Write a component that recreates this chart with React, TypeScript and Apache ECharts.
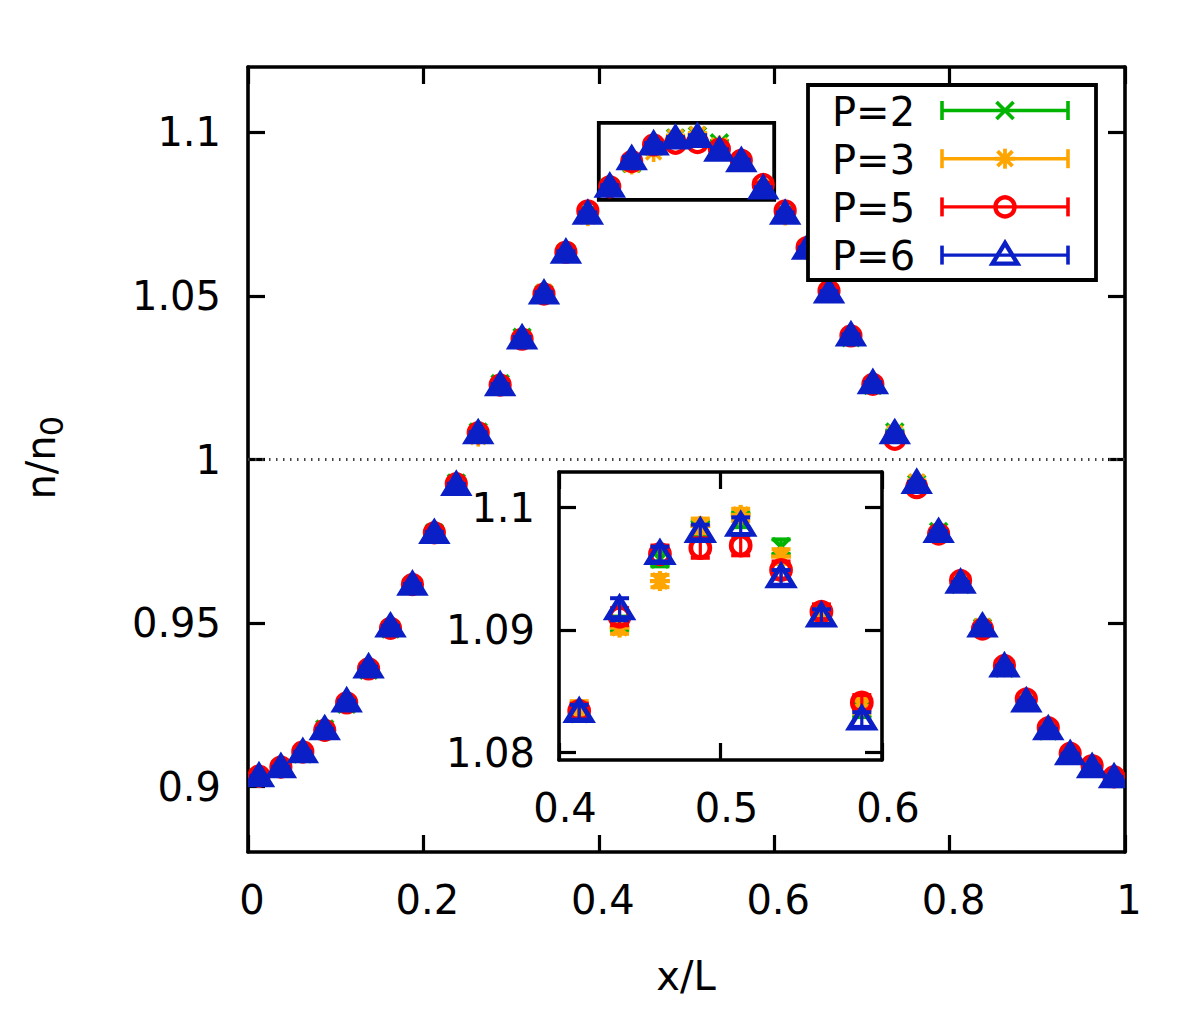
import React, { useEffect, useRef } from "react";
import * as echarts from "echarts";

// ---------------- data ----------------
const xPos = [
  0.0125, 0.0375, 0.0625, 0.0875, 0.1125, 0.1375, 0.1625, 0.1875, 0.2125, 0.2375,
  0.2625, 0.2875, 0.3125, 0.3375, 0.3625, 0.3875, 0.4125, 0.4375, 0.4625, 0.4875,
  0.5125, 0.5375, 0.5625, 0.5875, 0.6125, 0.6375, 0.6625, 0.6875, 0.7125, 0.7375,
  0.7625, 0.7875, 0.8125, 0.8375, 0.8625, 0.8875, 0.9125, 0.9375, 0.9625, 0.9875,
];

const p2Vals = [
  0.9028, 0.9056, 0.9100, 0.9176, 0.9252, 0.9356, 0.9482, 0.9614, 0.9776, 0.9928,
  1.0084, 1.0232, 1.0374, 1.0506, 1.0632, 1.0752, 1.0832, 1.0905, 1.0958, 1.0983,
  1.0990, 1.0968, 1.0912, 1.0835, 1.0752, 1.0646, 1.0512, 1.0372, 1.0226, 1.0084,
  0.9926, 0.9780, 0.9618, 0.9486, 0.9362, 0.9262, 0.9170, 0.9096, 0.9056, 0.9025,
];
const p3Vals = [
  0.9026, 0.9056, 0.9110, 0.9168, 0.9258, 0.9362, 0.9486, 0.9618, 0.9774, 0.9920,
  1.0070, 1.0226, 1.0366, 1.0512, 1.0638, 1.0744, 1.0836, 1.0902, 1.0940, 1.0985,
  1.0994, 1.0960, 1.0912, 1.0838, 1.0746, 1.0640, 1.0516, 1.0380, 1.0228, 1.0080,
  0.9932, 0.9770, 0.9628, 0.9490, 0.9368, 0.9262, 0.9176, 0.9104, 0.9060, 0.9028,
];
const p5Vals = [
  0.9032, 0.9060, 0.9106, 0.9172, 0.9256, 0.9360, 0.9484, 0.9618, 0.9776, 0.9926,
  1.0082, 1.0228, 1.0368, 1.0506, 1.0634, 1.0760, 1.0834, 1.0911, 1.0962, 1.0967,
  1.0969, 1.0949, 1.0915, 1.0841, 1.0760, 1.0648, 1.0515, 1.0378, 1.0230, 1.0062,
  0.9914, 0.9772, 0.9630, 0.9482, 0.9370, 0.9268, 0.9180, 0.9102, 0.9064, 0.9030,
];
const p6Vals = [
  0.9030, 0.9058, 0.9104, 0.9174, 0.9259, 0.9363, 0.9488, 0.9616, 0.9774, 0.9921,
  1.0079, 1.0226, 1.0369, 1.0506, 1.0631, 1.0750, 1.0833, 1.0917, 1.0962, 1.0980,
  1.0985, 1.0943, 1.0911, 1.0827, 1.0750, 1.0643, 1.0509, 1.0378, 1.0232, 1.0079,
  0.9927, 0.9777, 0.9622, 0.9488, 0.9366, 0.9259, 0.9174, 0.9098, 0.9058, 0.9027,
];

const p2Err = [
  0.0003, 0.0003, 0.0003, 0.0003, 0.0004, 0.0004, 0.0004, 0.0004, 0.0005, 0.0005,
  0.0005, 0.0005, 0.0005, 0.0006, 0.0006, 0.0006, 0.0006, 0.0006, 0.0006, 0.0006,
  0.0006, 0.0006, 0.0006, 0.0006, 0.0006, 0.0006, 0.0006, 0.0005, 0.0005, 0.0005,
  0.0005, 0.0005, 0.0004, 0.0004, 0.0004, 0.0004, 0.0003, 0.0003, 0.0003, 0.0003,
];
const p3Err = [
  0.0003, 0.0003, 0.0003, 0.0004, 0.0004, 0.0004, 0.0004, 0.0005, 0.0005, 0.0005,
  0.0005, 0.0005, 0.0006, 0.0006, 0.0006, 0.0006, 0.0006, 0.0005, 0.0005, 0.0006,
  0.0005, 0.0006, 0.0005, 0.0006, 0.0006, 0.0006, 0.0006, 0.0005, 0.0005, 0.0005,
  0.0005, 0.0005, 0.0004, 0.0004, 0.0004, 0.0004, 0.0004, 0.0003, 0.0003, 0.0003,
];
const p5Err = [
  0.0003, 0.0003, 0.0003, 0.0003, 0.0004, 0.0004, 0.0004, 0.0005, 0.0005, 0.0005,
  0.0005, 0.0006, 0.0006, 0.0006, 0.0006, 0.0006, 0.0006, 0.0007, 0.0007, 0.0008,
  0.0008, 0.0007, 0.0006, 0.0006, 0.0006, 0.0006, 0.0006, 0.0006, 0.0005, 0.0005,
  0.0005, 0.0005, 0.0004, 0.0004, 0.0004, 0.0004, 0.0003, 0.0003, 0.0003, 0.0003,
];
const p6Err = [
  0.0003, 0.0003, 0.0003, 0.0003, 0.0004, 0.0004, 0.0004, 0.0004, 0.0005, 0.0005,
  0.0005, 0.0005, 0.0006, 0.0006, 0.0006, 0.0006, 0.0006, 0.0009, 0.0006, 0.0006,
  0.0007, 0.0006, 0.0006, 0.0006, 0.0006, 0.0006, 0.0006, 0.0005, 0.0005, 0.0005,
  0.0005, 0.0004, 0.0004, 0.0004, 0.0004, 0.0003, 0.0003, 0.0003, 0.0003, 0.0003,
];

const seriesNames = ["P=2", "P=3", "P=5", "P=6"];
const seriesColors = ["#00b400", "#ffa500", "#ff0000", "#0b1fc7"];
const seriesMarkers = ["cross", "star", "circle", "triangle"];

const mainXRange = [0, 1];
const mainYRange = [0.88, 1.12];
const mainXInterval = 0.2;
const mainYTicks = [0.9, 0.95, 1, 1.05, 1.1];
const insetXRange = [0.4, 0.6];
const insetYRange = [1.0794, 1.1029];
const insetXTicks = [0.4, 0.5, 0.6];
const insetYTicks = [1.08, 1.09, 1.1];
const refLevel = 1;

const xTitle = "x/L";
const yTitleMain = "n/n";
const yTitleSub = "0";

// ---------------- helpers ----------------
const FONT = "DejaVu Sans";

function markerEls(kind: string, cx: number, cy: number, color: string, filled: boolean, lw: number): any[] {
  if (kind === "cross") {
    const s = 8.5;
    return [
      { type: "line", shape: { x1: cx - s, y1: cy - s, x2: cx + s, y2: cy + s }, style: { stroke: color, lineWidth: lw } },
      { type: "line", shape: { x1: cx - s, y1: cy + s, x2: cx + s, y2: cy - s }, style: { stroke: color, lineWidth: lw } },
    ];
  }
  if (kind === "star") {
    const s = 10;
    const d = 7.5;
    return [
      { type: "line", shape: { x1: cx - s, y1: cy, x2: cx + s, y2: cy }, style: { stroke: color, lineWidth: lw } },
      { type: "line", shape: { x1: cx, y1: cy - s, x2: cx, y2: cy + s }, style: { stroke: color, lineWidth: lw } },
      { type: "line", shape: { x1: cx - d, y1: cy - d, x2: cx + d, y2: cy + d }, style: { stroke: color, lineWidth: lw } },
      { type: "line", shape: { x1: cx - d, y1: cy + d, x2: cx + d, y2: cy - d }, style: { stroke: color, lineWidth: lw } },
    ];
  }
  if (kind === "circle") {
    return [
      { type: "circle", shape: { cx, cy, r: 9.5 }, style: { stroke: color, lineWidth: lw + 0.6, fill: "none" } },
    ];
  }
  // triangle
  return [
    {
      type: "polygon",
      shape: { points: [[cx, cy - 12], [cx - 12.5, cy + 8.5], [cx + 12.5, cy + 8.5]] },
      style: { stroke: color, lineWidth: lw + 0.6, fill: filled ? color : "none", lineJoin: "miter" },
    },
  ];
}

function makeRenderItem(kind: string, color: string, filled: boolean, lw: number, bw: number) {
  return (params: any, api: any) => {
    const x = api.value(0);
    const y = api.value(1);
    const e = api.value(2);
    const c = api.coord([x, y]);
    const top = api.coord([x, y + e])[1];
    const bot = api.coord([x, y - e])[1];
    const cw = 9.5;
    const children: any[] = [
      { type: "line", shape: { x1: c[0], y1: top, x2: c[0], y2: bot }, style: { stroke: color, lineWidth: bw } },
      { type: "line", shape: { x1: c[0] - cw, y1: top, x2: c[0] + cw, y2: top }, style: { stroke: color, lineWidth: bw + 0.8 } },
      { type: "line", shape: { x1: c[0] - cw, y1: bot, x2: c[0] + cw, y2: bot }, style: { stroke: color, lineWidth: bw + 0.8 } },
      ...markerEls(kind, c[0], c[1], color, filled, lw),
    ];
    return { type: "group", children };
  };
}

function buildOption(): any {
  const valsList = [p2Vals, p3Vals, p5Vals, p6Vals];
  const errList = [p2Err, p3Err, p5Err, p6Err];

  const axisLine = { show: true, onZero: false, lineStyle: { color: "#000", width: 3.6 } };
  const tick = (extra: any = {}) => ({ show: true, inside: true, length: 17, lineStyle: { color: "#000", width: 3.2 }, ...extra });
  const label = (extra: any = {}) => ({ color: "#000", fontSize: 40, fontFamily: FONT, ...extra });

  const xAxis = [
    {
      gridIndex: 0, type: "value", position: "bottom", min: mainXRange[0], max: mainXRange[1], interval: mainXInterval,
      axisLine, axisTick: tick(), splitLine: { show: false },
      axisLabel: label({ margin: 28, padding: [0, 0, 0, 8] }),
    },
    {
      gridIndex: 0, type: "value", position: "top", min: mainXRange[0], max: mainXRange[1], interval: mainXInterval,
      axisLine, axisTick: tick(), splitLine: { show: false }, axisLabel: { show: false },
    },
    {
      gridIndex: 1, type: "value", position: "bottom", min: insetXRange[0], max: insetXRange[1],
      axisLine, axisTick: tick({ customValues: insetXTicks }), splitLine: { show: false },
      axisLabel: label({ margin: 28, padding: [0, 0, 0, 12], customValues: insetXTicks }),
    },
    {
      gridIndex: 1, type: "value", position: "top", min: insetXRange[0], max: insetXRange[1],
      axisLine, axisTick: tick({ customValues: insetXTicks }), splitLine: { show: false }, axisLabel: { show: false },
    },
  ];
  const yAxis = [
    {
      gridIndex: 0, type: "value", position: "left", min: mainYRange[0], max: mainYRange[1],
      axisLine, axisTick: tick({ customValues: mainYTicks }), splitLine: { show: false },
      axisLabel: label({ margin: 27, customValues: mainYTicks }),
    },
    {
      gridIndex: 0, type: "value", position: "right", min: mainYRange[0], max: mainYRange[1],
      axisLine, axisTick: tick({ customValues: mainYTicks }), splitLine: { show: false }, axisLabel: { show: false },
    },
    {
      gridIndex: 1, type: "value", position: "left", min: insetYRange[0], max: insetYRange[1],
      axisLine, axisTick: tick({ customValues: insetYTicks }), splitLine: { show: false },
      axisLabel: label({ margin: 24, customValues: insetYTicks }),
    },
    {
      gridIndex: 1, type: "value", position: "right", min: insetYRange[0], max: insetYRange[1],
      axisLine, axisTick: tick({ customValues: insetYTicks }), splitLine: { show: false }, axisLabel: { show: false },
    },
  ];

  const series: any[] = [];
  // reference dotted line at n/n0 = 1
  series.push({
    type: "line",
    xAxisIndex: 0,
    yAxisIndex: 0,
    data: [],
    silent: true,
    markLine: {
      silent: true,
      symbol: ["none", "none"],
      label: { show: false },
      lineStyle: { color: "#444", width: 3, type: [1.5, 5.5] },
      data: [{ yAxis: refLevel }],
    },
  });
  // zoom box in main plot
  series.push({
    type: "custom",
    xAxisIndex: 0,
    yAxisIndex: 0,
    z: 3,
    data: [[insetXRange[0], insetYRange[0], insetXRange[1], insetYRange[1]]],
    renderItem: (params: any, api: any) => {
      const a = api.coord([api.value(0), api.value(1)]);
      const b = api.coord([api.value(2), api.value(3)]);
      return {
        type: "rect",
        shape: { x: a[0], y: b[1], width: b[0] - a[0], height: a[1] - b[1] },
        style: { fill: "none", stroke: "#000", lineWidth: 3.8 },
      };
    },
  });
  // data, main plot
  for (let s = 0; s < 4; s++) {
    const data = xPos.map((x, i) => [x, valsList[s][i], errList[s][i]]);
    series.push({
      type: "custom",
      name: seriesNames[s],
      xAxisIndex: 0,
      yAxisIndex: 0,
      z: 4 + s,
      clip: true,
      encode: { x: 0, y: 1 },
      data,
      renderItem: makeRenderItem(seriesMarkers[s], seriesColors[s], true, 3.6, 2.8),
    });
  }
  // data, inset
  for (let s = 0; s < 4; s++) {
    const data = xPos.map((x, i) => [x, valsList[s][i], errList[s][i]]);
    series.push({
      type: "custom",
      name: seriesNames[s] + " (inset)",
      xAxisIndex: 2,
      yAxisIndex: 2,
      z: 10 + s,
      clip: true,
      encode: { x: 0, y: 1 },
      data,
      renderItem: makeRenderItem(seriesMarkers[s], seriesColors[s], false, 4.2, 3.2),
    });
  }

  // legend drawn with graphic elements
  const legendEls: any[] = [
    {
      type: "rect",
      shape: { x: 808, y: 85, width: 288, height: 195 },
      style: { fill: "#fff", stroke: "#000", lineWidth: 3.8 },
      z: 100,
    },
  ];
  for (let s = 0; s < 4; s++) {
    const y = 110.5 + s * 48.2;
    const col = seriesColors[s];
    legendEls.push({
      type: "text",
      x: 832,
      y: y + 1,
      z: 101,
      style: { text: seriesNames[s], fontSize: 40, fontFamily: FONT, fill: "#000", textAlign: "left", textVerticalAlign: "middle", align: "left", verticalAlign: "middle" },
    });
    const x1 = 942;
    const x2 = 1068;
    legendEls.push({ type: "line", z: 101, shape: { x1, y1: y, x2, y2: y }, style: { stroke: col, lineWidth: 3.4 } });
    legendEls.push({ type: "line", z: 101, shape: { x1, y1: y - 9.5, x2: x1, y2: y + 9.5 }, style: { stroke: col, lineWidth: 3.6 } });
    legendEls.push({ type: "line", z: 101, shape: { x1: x2, y1: y - 9.5, x2, y2: y + 9.5 }, style: { stroke: col, lineWidth: 3.6 } });
    markerEls(seriesMarkers[s], 1005, y, col, false, 3.8).forEach((el) => legendEls.push({ ...el, z: 102 }));
  }

  const graphic = [
    ...legendEls,
    {
      type: "text",
      x: 686,
      y: 976,
      style: { text: xTitle, fontSize: 40, fontFamily: FONT, fill: "#000", textAlign: "center", textVerticalAlign: "middle", align: "center", verticalAlign: "middle" },
    },
    {
      type: "group",
      x: 41,
      y: 458,
      rotation: Math.PI / 2,
      children: [
        {
          type: "text",
          x: -9.5,
          y: 0,
          style: { text: yTitleMain, fontSize: 40, fontFamily: FONT, fill: "#000", textAlign: "center", textVerticalAlign: "middle", align: "center", verticalAlign: "middle" },
        },
        {
          type: "text",
          x: 32,
          y: 11,
          style: { text: yTitleSub, fontSize: 32, fontFamily: FONT, fill: "#000", textAlign: "center", textVerticalAlign: "middle", align: "center", verticalAlign: "middle" },
        },
      ],
    },
  ];

  return {
    animation: false,
    backgroundColor: "#fff",
    textStyle: { fontFamily: FONT },
    grid: [
      { left: 248, top: 67, width: 877, height: 785, containLabel: false },
      { left: 559, top: 472, width: 323, height: 288, containLabel: false, show: true, backgroundColor: "#fff", borderWidth: 0 },
    ],
    xAxis,
    yAxis,
    series,
    graphic,
  };
}

export default function App() {
  const ref = useRef<HTMLDivElement>(null);
  useEffect(() => {
    if (!ref.current) return;
    const chart = echarts.init(ref.current, null, { renderer: "svg" });
    chart.setOption(buildOption());
    return () => chart.dispose();
  }, []);
  return (
    <div
      ref={ref}
      style={{ position: "fixed", left: 0, top: 0, width: 1200, height: 1019, background: "#fff" }}
    />
  );
}
